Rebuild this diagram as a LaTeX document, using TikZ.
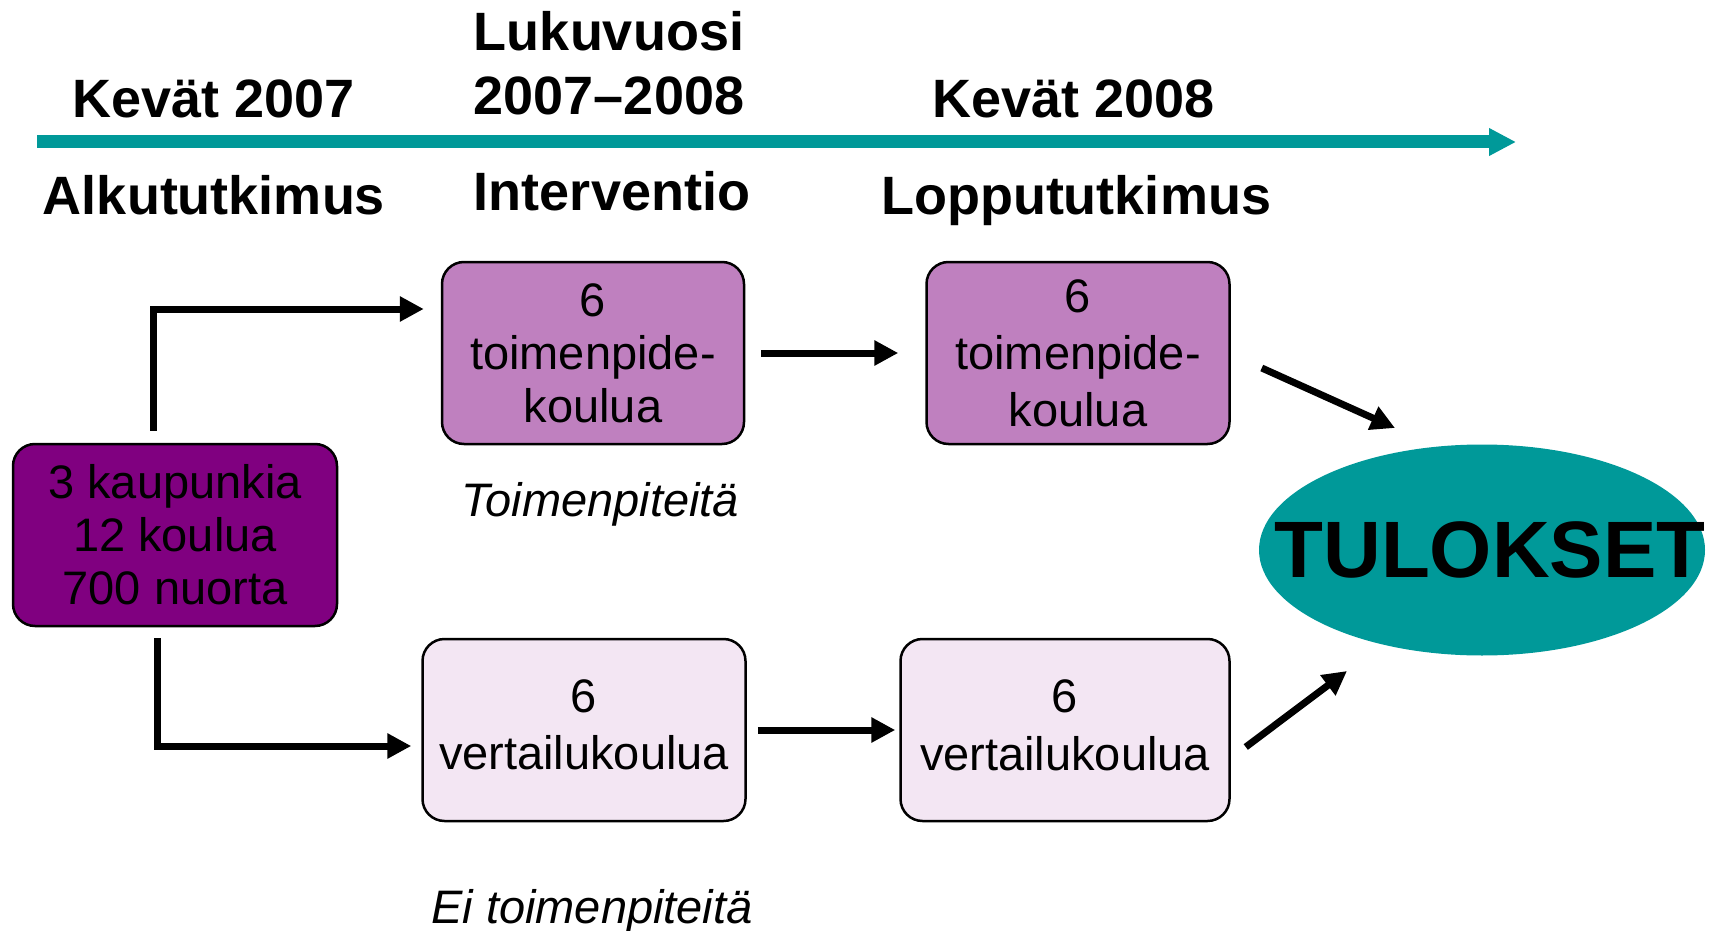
\documentclass[tikz,border=0pt]{standalone}
\usepackage{fontspec}
\setmainfont{Liberation Sans}
\usetikzlibrary{arrows.meta}
\usetikzlibrary{positioning}
\usetikzlibrary{shapes}

\definecolor{timeteal}{HTML}{009999}
\definecolor{startpurple}{HTML}{800080}
\definecolor{actpurple}{HTML}{BF80BF}
\definecolor{refpurple}{HTML}{F3E6F3}

\tikzset{
	heading/.style={font=\fontsize{54}{64}\selectfont\bfseries, anchor=base, align=center},
	note/.style={font=\fontsize{47}{53}\selectfont\itshape, anchor=base},
	schoolbox/.style={draw=black, line width=2.5pt, rounded corners=22pt, minimum height=182pt,
			inner sep=0pt, align=center, font=\fontsize{47}{53}\selectfont},
	flow/.style={line width=7pt, -{Triangle[length=24pt, width=24pt]}}
}

\begin{document}
\begin{tikzpicture}[x=1pt, y=-1pt]
	\useasboundingbox (0, 0) rectangle (1719, 931);

	% timeline
	\coordinate (tstart) at (37, 142);
	\coordinate (tend) at (1516, 142);
	\draw[line width=13pt, color=timeteal, -{Triangle[length=27pt, width=26pt]}] (tstart) -- (tend);

	\node[heading] (spring7) at (214, 118) {Kevät 2007};
	\node[heading] (year) at (609, 115) {Lukuvuosi\\2007--2008};
	\node[heading] (spring8) at (1074, 118) {Kevät 2008};
	\node[heading] (pre) at (214, 214) {Alkututkimus};
	\node[heading] (interv) at (612, 210) {Interventio};
	\node[heading] (post) at (1076, 214) {Loppututkimus};

	% schools
	\node[schoolbox, fill=startpurple, minimum width=324pt] (main) at (175, 535) {3 kaupunkia\\12 koulua\\700 nuorta};
	\node[schoolbox, fill=actpurple, minimum width=302pt] (act1) at (593, 353) {6\\toimenpide-\\koulua};
	\node[schoolbox, fill=actpurple, minimum width=303pt, font=\fontsize{47}{57}\selectfont] (act2) at (1078, 353) {6\\toimenpide-\\koulua};
	\node[schoolbox, fill=refpurple, minimum width=323pt, font=\fontsize{47}{57}\selectfont, text depth=10pt] (ref1) at (584, 730) {6\\vertailukoulua};
	\node[schoolbox, fill=refpurple, minimum width=329pt, font=\fontsize{47}{58}\selectfont, text depth=10pt] (ref2) at (1065, 730) {6\\vertailukoulua};

	\node[note] (withact) at (600, 516) {Toimenpiteitä};
	\node[note] (noact) at (592, 923) {Ei toimenpiteitä};

	\node[ellipse, fill=timeteal, minimum width=446pt, minimum height=211pt, inner sep=0pt,
		font=\fontsize{80}{90}\selectfont\bfseries] (result) at (1482, 550) {\makebox[0pt]{\hspace*{16pt}TULOKSET}};

	% connectors
	\draw[flow] ([xshift=-22pt, yshift=12pt]main.north) |- ([xshift=-17pt, yshift=44pt]act1.west);
	\draw[flow] ([xshift=-18pt, yshift=-11pt]main.south) |- ([xshift=-10pt, yshift=-16pt]ref1.west);
	\draw[flow, shorten <=16pt, shorten >=27pt] (act1.east) -- (act2.west);
	\draw[flow, shorten <=11pt, shorten >=4pt] (ref1.east) -- (ref2.west);
	\draw[flow] ([xshift=31pt, yshift=-15pt]act2.east) -- ([xshift=-87pt, yshift=122pt]result.center);
	\draw[flow] ([xshift=15pt, yshift=-17pt]ref2.east) -- ([xshift=-135pt, yshift=-121pt]result.center);
\end{tikzpicture}
\end{document}
